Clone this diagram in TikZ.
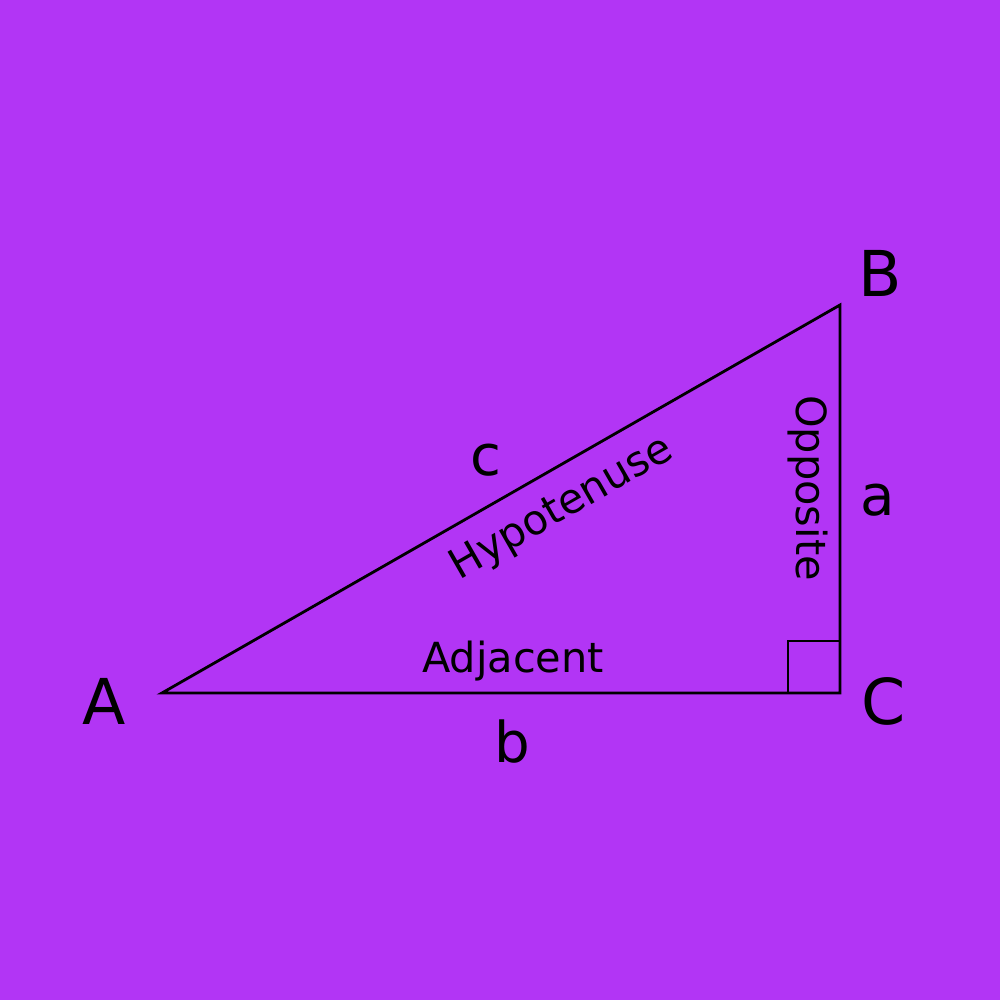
\documentclass[tikz,border=0pt]{standalone}
\usepackage{fontspec}
\setmainfont{DejaVu Sans}
\usepackage{tikz}
\usetikzlibrary{calc}
\definecolor{bgPurple}{HTML}{B235F5}

\begin{document}
\begin{tikzpicture}
    \fill[bgPurple] (0, 0) rectangle (10, 10);
    \useasboundingbox (0, 0) rectangle (10, 10);

    \coordinate (A) at (1.62, 3.07);
    \coordinate (B) at (8.40, 6.95);
    \coordinate (C) at (8.40, 3.07);

    \draw[line width=0.8pt, line join=miter] (A) -- (B) -- (C) -- cycle;
    \draw[line width=0.8pt] ($(C) + (0, 0.52)$) -- ($(C) + (-0.52, 0.52)$) -- ($(C) + (-0.52, 0)$);

    \node[font=\fontsize{18}{20}\selectfont] (labA) at (1.04, 2.99) {A};
    \node[font=\fontsize{18}{20}\selectfont] (labB) at (8.80, 7.27) {B};
    \node[font=\fontsize{18}{20}\selectfont] (labC) at (8.84, 2.99) {C};

    \node[font=\fontsize{16}{18}\selectfont] (laba) at (8.78, 5.00) {a};
    \node[font=\fontsize{16}{18}\selectfont] (labb) at (5.12, 2.58) {b};
    \node[font=\fontsize{16}{18}\selectfont] (labc) at (4.86, 5.40) {c};

    \node[font=\fontsize{11.8}{14}\selectfont] (adj) at (5.13, 3.39) {Adjacent};
    \node[font=\fontsize{11.8}{14}\selectfont, rotate=29.8] (hyp) at (5.62, 4.91) {Hypotenuse};
    \node[font=\fontsize{11.8}{14}\selectfont, rotate=-90] (opp) at (8.08, 5.12) {Opposite};
\end{tikzpicture}
\end{document}
